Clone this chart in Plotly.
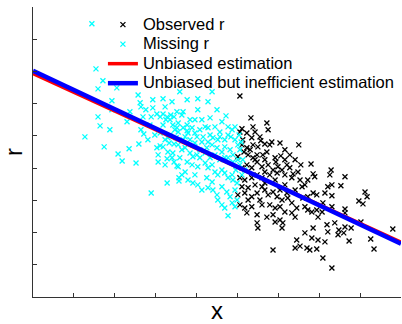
import plotly.graph_objects as go

# Missing r (cyan)
missing_x = [1.44, 1.54, 1.71, 1.59, 2.05, 1.93, 1.93, 2.37, 1.59, 1.64, 1.88, 1.27, 1.74, 2.08, 2.30, 2.18,
             2.35, 2.52, 2.59, 2.64, 2.71, 2.57, 2.93, 3.18, 3.59, 3.77, 2.62, 2.64, 2.76, 2.93, 2.89, 2.69,
             3.03, 3.11, 3.18, 3.28, 3.37, 3.45, 3.52, 3.40, 3.23, 3.03, 3.11, 3.18, 3.06, 3.06, 3.23, 3.28,
             3.40, 3.45, 3.30, 3.33, 3.45, 3.42, 3.52, 3.57, 3.57, 3.28, 2.89, 3.25, 3.35, 3.42, 3.47, 3.55,
             3.18, 3.11, 3.30, 4.03, 4.38, 4.28, 4.03, 4.50, 3.67, 3.64, 3.84, 4.13, 4.62, 4.77, 4.21, 3.55,
             3.77, 3.52, 4.72, 4.84, 3.67, 3.77, 3.89, 3.96, 4.08, 4.28, 4.45, 4.57, 4.87, 4.94, 3.55, 3.64,
             3.72, 3.84, 3.91, 4.01, 4.08, 3.59, 3.77, 3.89, 4.03, 4.21, 4.28, 4.38, 4.45, 4.52, 4.62, 4.69,
             4.77, 4.87, 4.89, 3.55, 3.64, 3.79, 3.91, 4.03, 4.13, 4.28, 4.40, 4.50, 4.62, 4.74, 4.82, 4.94,
             4.99, 4.52, 4.62, 4.69, 4.77, 4.87, 4.38, 4.25, 3.96, 3.72, 4.99, 4.94, 4.28, 4.38, 4.50, 4.62,
             4.69, 4.82, 4.89, 4.52, 4.25, 4.13, 3.96, 3.84, 4.77, 4.89, 4.69, 3.72, 3.79, 4.01, 4.16, 4.33,
             4.40, 4.57, 4.69, 4.77, 4.94, 5.01, 5.06, 5.01, 4.96, 5.06, 4.45, 4.33, 4.57, 4.08, 4.21, 3.35,
             3.50, 3.67, 3.23, 5.09, 5.13, 5.11, 5.18, 5.04, 2.86, 2.81, 2.98, 3.96, 4.33]
missing_y = [8.48, 7.08, 6.71, 6.46, 6.49, 6.09, 5.81, 5.75, 5.59, 5.31, 5.19, 4.97, 4.66, 4.44, 5.44, 4.22,
             4.60, 4.16, 4.75, 5.19, 5.06, 6.27, 6.12, 6.15, 6.37, 6.12, 6.03, 5.90, 5.81, 5.87, 5.59, 5.59,
             5.68, 5.59, 5.68, 5.59, 5.65, 5.59, 5.75, 6.06, 5.90, 4.63, 4.69, 4.66, 4.41, 4.19, 4.10, 4.29,
             4.32, 4.19, 4.50, 4.78, 4.75, 4.47, 4.07, 3.70, 3.60, 3.54, 3.23, 5.50, 5.50, 5.34, 5.19, 5.12,
             5.34, 5.09, 4.94, 6.15, 6.37, 6.06, 5.81, 5.81, 5.75, 5.65, 5.50, 5.50, 5.44, 5.28, 5.28, 5.40,
             5.34, 5.25, 5.62, 4.97, 5.25, 5.16, 5.25, 5.09, 5.19, 5.25, 5.28, 5.12, 5.19, 5.28, 4.72, 4.57,
             4.63, 4.47, 4.35, 4.41, 4.32, 4.32, 4.19, 4.10, 4.04, 4.16, 4.01, 4.10, 3.88, 3.79, 3.94, 3.85,
             3.70, 3.79, 3.63, 4.04, 3.79, 3.63, 3.54, 3.48, 3.32, 3.39, 3.32, 3.17, 3.42, 3.26, 3.11, 3.32,
             3.54, 3.01, 2.86, 2.76, 2.52, 2.92, 3.57, 3.70, 3.79, 3.88, 3.01, 2.80, 4.81, 4.72, 4.63, 4.50,
             4.66, 4.57, 4.41, 4.88, 4.63, 4.81, 4.78, 4.88, 4.32, 4.19, 4.32, 4.97, 5.09, 4.97, 4.97, 5.03,
             4.94, 4.97, 4.88, 5.03, 4.88, 4.72, 4.57, 4.26, 3.94, 4.10, 4.41, 4.32, 4.26, 4.57, 4.47, 5.03,
             4.94, 4.88, 4.88, 4.81, 4.26, 3.79, 3.94, 5.03, 5.34, 4.88, 5.03, 5.50, 5.56]

# Observed r (black)
observed_x = [5.06, 5.33, 5.38, 5.11, 5.72, 5.75, 6.50, 6.04, 5.23, 5.55, 5.57, 5.50, 5.67, 5.79, 5.84, 5.72,
              5.62, 5.48, 5.92, 6.06, 5.94, 6.21, 6.55, 6.80, 5.75, 5.60, 5.99, 5.87, 6.09, 6.36, 6.48, 6.85,
              7.29, 5.06, 5.43, 5.13, 5.35, 5.11, 5.23, 5.38, 5.01, 5.26, 5.38, 5.48, 5.11, 5.23, 5.35, 5.06,
              5.18, 5.35, 5.48, 5.11, 5.26, 5.43, 5.01, 5.18, 5.35, 5.48, 5.06, 5.18, 5.35, 5.23, 5.48, 5.67,
              5.79, 5.97, 6.16, 6.33, 6.89, 6.72, 6.65, 6.58, 7.26, 7.21, 7.31, 7.14, 6.94, 6.85, 6.72, 6.60,
              7.09, 7.31, 5.60, 5.55, 5.67, 5.75, 5.87, 5.97, 6.09, 6.21, 6.23, 6.33, 5.79, 5.60, 5.92, 6.04,
              6.16, 6.33, 6.45, 6.65, 6.72, 6.82, 6.94, 7.07, 6.97, 5.72, 5.87, 6.04, 5.92, 6.11, 5.48, 5.50,
              6.09, 6.41, 6.65, 6.85, 7.19, 7.21, 7.14, 6.97, 6.82, 6.45, 6.41, 6.70, 6.77, 6.94, 5.87, 7.09,
              7.31, 7.63, 7.53, 7.31, 8.12, 8.17, 7.97, 8.07, 7.63, 7.63, 7.38, 8.02, 7.63, 7.78, 7.48, 7.46,
              7.60, 7.73, 8.26, 8.34, 8.80, 5.31, 5.43, 5.67, 6.16, 6.28, 5.60, 5.92, 6.16, 6.41, 5.26, 5.67,
              6.04, 6.53, 6.16, 6.28, 6.41, 5.16, 6.53]
observed_y = [6.24, 5.56, 5.28, 5.22, 5.40, 5.19, 4.72, 4.78, 5.09, 4.97, 4.85, 4.66, 4.75, 4.72, 4.81, 4.50,
              4.41, 4.41, 4.32, 4.38, 4.19, 4.10, 4.10, 4.13, 4.10, 4.04, 4.04, 3.94, 3.94, 3.82, 3.88, 3.82,
              3.94, 5.12, 5.12, 4.88, 4.94, 4.72, 4.63, 4.72, 4.35, 4.41, 4.32, 4.19, 4.01, 4.10, 4.01, 3.70,
              3.63, 3.70, 3.79, 3.42, 3.39, 3.48, 3.17, 3.23, 3.11, 3.23, 2.86, 2.76, 2.80, 2.61, 2.55, 3.88,
              3.79, 3.85, 3.79, 3.70, 3.73, 3.63, 3.48, 3.42, 3.79, 3.42, 3.48, 3.23, 3.17, 3.23, 3.11, 3.07,
              2.92, 2.80, 3.42, 3.01, 3.32, 3.17, 3.26, 3.11, 3.01, 3.23, 3.07, 2.92, 2.86, 2.86, 2.76, 2.80,
              2.64, 2.61, 2.76, 2.80, 2.70, 2.64, 2.70, 2.64, 2.48, 2.48, 2.55, 2.39, 2.33, 2.30, 2.30, 2.14,
              2.14, 2.48, 1.99, 2.14, 2.24, 2.02, 1.71, 1.77, 1.83, 1.77, 1.52, 1.52, 1.46, 1.49, 1.46, 1.21,
              0.90, 3.73, 3.45, 3.14, 3.26, 3.11, 2.98, 2.89, 2.73, 2.61, 2.30, 2.33, 2.17, 2.14, 2.08, 1.93,
              1.99, 1.74, 1.80, 1.49, 2.11, 4.57, 4.26, 4.26, 4.26, 4.01, 3.70, 3.63, 3.48, 3.32, 3.01, 3.54,
              3.32, 3.63, 4.57, 4.41, 4.26, 4.50, 1.58]

# Fitted lines (endpoints at the axis limits)
line_x = [0, 9]
unbiased_y = [6.93, 1.70]
inefficient_y = [7.02, 1.65]

names = ["Observed r", "Missing r", "Unbiased estimation", "Unbiased but inefficient estimation"]


def legend_label(s):
    return '<span style="font-size:16.5px">' + s + "</span>"


fig = go.Figure()
fig.add_trace(go.Scatter(x=observed_x, y=observed_y, mode="markers", name=legend_label(names[0]),
                         marker=dict(symbol="x-thin", size=5, line=dict(color="black", width=1.3))))
fig.add_trace(go.Scatter(x=missing_x, y=missing_y, mode="markers", name=legend_label(names[1]),
                         marker=dict(symbol="x-thin", size=5, line=dict(color="#00FFFF", width=1.3))))
fig.add_trace(go.Scatter(x=line_x, y=unbiased_y, mode="lines", name=legend_label(names[2]),
                         line=dict(color="#FF0000", width=3.5)))
fig.add_trace(go.Scatter(x=line_x, y=inefficient_y, mode="lines", name=legend_label(names[3]),
                         line=dict(color="#0000FF", width=4.5)))

axis_common = dict(showgrid=False, zeroline=False, showline=True, linecolor="#333333", linewidth=1.2,
                   ticks="inside", ticklen=4, tickcolor="#333333", showticklabels=False, mirror=False,
                   automargin=False)
fig.update_xaxes(range=[0, 9], dtick=1, tick0=0,
                 title=dict(text="x", font=dict(size=24, color="black"), standoff=12), **axis_common)
fig.update_yaxes(range=[0, 9], dtick=1, tick0=0,
                 title=dict(text="r", font=dict(size=24, color="black"), standoff=6), **axis_common)

fig.update_layout(
    width=402, height=324,
    margin=dict(l=33, r=1, t=7, b=27),
    paper_bgcolor="white", plot_bgcolor="white",
    font=dict(family="Liberation Sans, Arial, sans-serif", color="black"),
    showlegend=True,
    legend=dict(x=0.19, y=0.99, xanchor="left", yanchor="top", bgcolor="rgba(0,0,0,0)",
                font=dict(size=12.7, color="black"), borderwidth=0, tracegroupgap=0),
)

fig.write_html("out.html", config={"displayModeBar": False},
               post_script="document.body.style.margin='0';")
